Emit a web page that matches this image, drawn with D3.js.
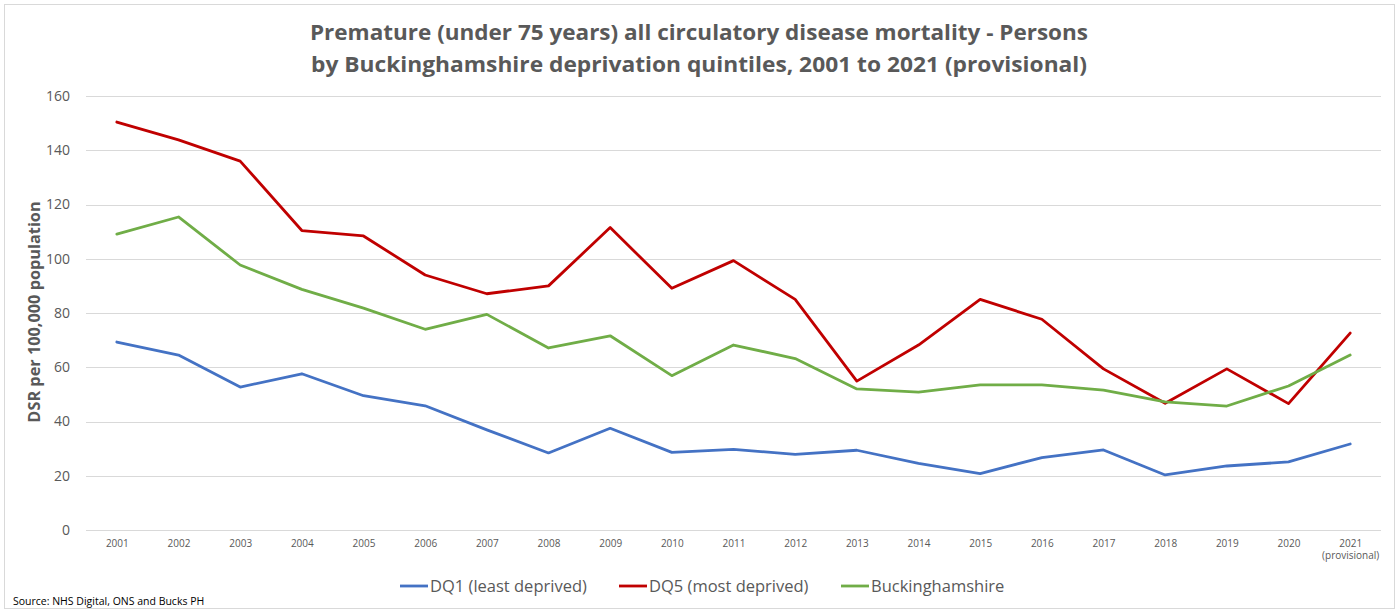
<!DOCTYPE html>
<html>
<head>
<meta charset="utf-8">
<script src="https://cdn.jsdelivr.net/npm/d3@7"></script>
<style>
  body { margin: 0; background: #fff; }
  text { font-family: "Open Sans", "Noto Sans", sans-serif; }
</style>
</head>
<body>
<div id="chart"></div>
<script>
// data
const years = ["2001", "2002", "2003", "2004", "2005", "2006", "2007", "2008", "2009", "2010",
  "2011", "2012", "2013", "2014", "2015", "2016", "2017", "2018", "2019", "2020", "2021"];
const dq1 = [69.3, 64.5, 52.7, 57.6, 49.5, 45.8, 36.9, 28.4, 37.5, 28.6,
  29.7, 27.9, 29.4, 24.6, 20.8, 26.7, 29.5, 20.3, 23.6, 25.1, 31.7];
const dq5 = [150.4, 143.8, 136.0, 110.4, 108.4, 94.0, 87.1, 90.0, 111.5, 89.1,
  99.3, 85.0, 54.9, 68.2, 85.0, 77.7, 59.4, 46.7, 59.4, 46.6, 72.6];
const bucks = [109.1, 115.4, 97.7, 88.7, 81.8, 74.0, 79.5, 67.1, 71.6, 56.9,
  68.2, 63.2, 52.0, 50.8, 53.5, 53.5, 51.6, 47.2, 45.7, 53.1, 64.5];
const yTicks = [0, 20, 40, 60, 80, 100, 120, 140, 160];

const series = [
  { name: "DQ1 (least deprived)", values: dq1, color: "#4472C4" },
  { name: "DQ5 (most deprived)", values: dq5, color: "#C00000" },
  { name: "Buckinghamshire", values: bucks, color: "#70AD47" }
];

const W = 1399, H = 613;
const plot = { left: 86, right: 1381, top: 96, bottom: 530 };

const svg = d3.select("#chart").append("svg")
  .attr("width", W).attr("height", H);

// outer frame
svg.append("rect")
  .attr("x", 4.5).attr("y", 4.5)
  .attr("width", 1390).attr("height", 604)
  .attr("fill", "#fff").attr("stroke", "#d9d9d9");

const x = d3.scalePoint().domain(years).range([plot.left, plot.right]).padding(0.5);
const y = d3.scaleLinear().domain([0, 160]).range([plot.bottom, plot.top]);

// gridlines
svg.append("g").selectAll("line").data(yTicks).join("line")
  .attr("x1", plot.left).attr("x2", plot.right)
  .attr("y1", d => Math.round(y(d)) + 0.5).attr("y2", d => Math.round(y(d)) + 0.5)
  .attr("stroke", "#d9d9d9").attr("stroke-width", 1);

// y axis
const yAxis = d3.axisLeft(y).tickValues(yTicks).tickSize(0).tickPadding(0);
svg.append("g")
  .attr("transform", "translate(70,0)")
  .call(yAxis)
  .call(g => g.select(".domain").remove())
  .call(g => g.selectAll("text")
    .attr("fill", "#595959").style("font-size", "14px")
    .style("font-family", "'Open Sans', sans-serif"));

// x axis
const xAxis = d3.axisBottom(x).tickSize(0).tickPadding(10).tickFormat(d => d);
const xg = svg.append("g")
  .attr("transform", "translate(0," + plot.bottom + ")")
  .call(xAxis)
  .call(g => g.select(".domain").remove());
xg.selectAll("text")
  .attr("fill", "#595959").style("font-size", "10px")
  .style("font-family", "'Open Sans', sans-serif");
xg.selectAll(".tick").filter(d => d === "2021").select("text")
  .append("tspan").attr("x", 0).attr("dy", "1.15em").text("(provisional)");

// lines
const line = d3.line()
  .x((d, i) => x(years[i]))
  .y(d => y(d));

svg.append("g").selectAll("path").data(series).join("path")
  .attr("d", d => line(d.values))
  .attr("fill", "none")
  .attr("stroke", d => d.color)
  .attr("stroke-width", 2.8)
  .attr("stroke-linejoin", "round")
  .attr("stroke-linecap", "round");

// title
svg.append("text")
  .attr("x", 699).attr("y", 40)
  .attr("text-anchor", "middle")
  .attr("fill", "#595959")
  .style("font-size", "21px").style("font-weight", "bold")
  .attr("textLength", 778).attr("lengthAdjust", "spacingAndGlyphs")
  .text("Premature (under 75 years) all circulatory disease mortality - Persons");
svg.append("text")
  .attr("x", 699).attr("y", 72)
  .attr("text-anchor", "middle")
  .attr("fill", "#595959")
  .style("font-size", "21px").style("font-weight", "bold")
  .attr("textLength", 776).attr("lengthAdjust", "spacingAndGlyphs")
  .text("by Buckinghamshire deprivation quintiles, 2001 to 2021 (provisional)");

// y axis label
svg.append("text")
  .attr("transform", "translate(40," + ((plot.top + plot.bottom) / 2 - 1) + ") rotate(-90)")
  .attr("text-anchor", "middle")
  .attr("fill", "#595959")
  .style("font-size", "16.3px").style("font-weight", "bold")
  .text("DSR per 100,000 population");

// legend
const legendX = [400, 619, 841];
const legend = svg.append("g").selectAll("g").data(series).join("g")
  .attr("transform", (d, i) => "translate(" + legendX[i] + ",586)");
legend.append("line")
  .attr("x1", 0).attr("x2", 28)
  .attr("stroke", d => d.color).attr("stroke-width", 2.8);
legend.append("text")
  .attr("x", 30).attr("dy", "0.35em")
  .attr("fill", "#595959")
  .style("font-size", "16.5px")
  .text(d => d.name);

// source
svg.append("text")
  .attr("x", 13).attr("y", 605)
  .attr("fill", "#000")
  .style("font-size", "10.5px")
  .text("Source: NHS Digital, ONS and Bucks PH");
</script>
</body>
</html>
